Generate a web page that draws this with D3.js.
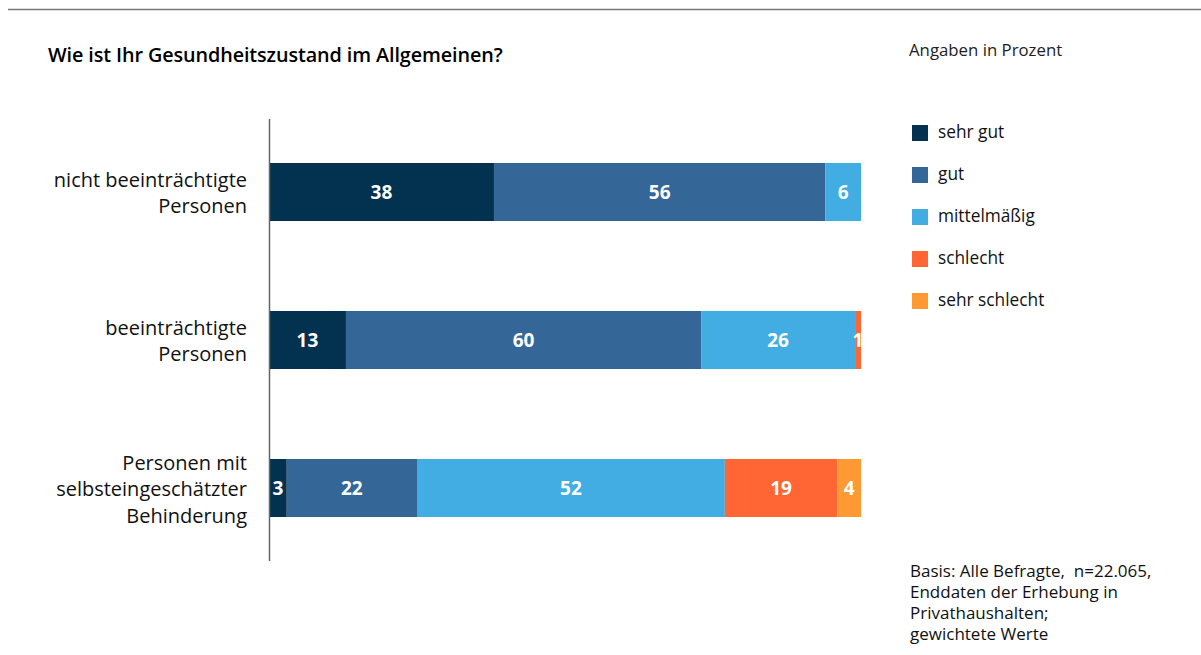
<!DOCTYPE html>
<html><head><meta charset="utf-8">
<script src="https://cdn.jsdelivr.net/npm/d3@7"></script>
<style>
html,body{margin:0;padding:0;background:#fff;}
svg{display:block;font-family:"Open Sans",sans-serif;}
</style></head>
<body><svg id="chart" width="1201" height="655"></svg>
<script>
const categories = [["nicht beeinträchtigte","Personen"],["beeinträchtigte","Personen"],["Personen mit","selbsteingeschätzter","Behinderung"]];
const seriesNames = ["sehr gut","gut","mittelmäßig","schlecht","sehr schlecht"];
const sehrGut = [38,13,3];
const gut = [56,60,22];
const mittel = [6,26,52];
const schlecht = [0,1,19];
const sehrSchlecht = [0,0,4];
const colors = ["#02324f","#346797","#41ade3","#ff6633","#ff9933"];
const footnote = ["Basis: Alle Befragte,  n=22.065,","Enddaten der Erhebung in","Privathaushalten;","gewichtete Werte"];

const svg = d3.select("#chart");
const catKeys = categories.map((c,i)=>"c"+i);
const rows = catKeys.map((k,i)=>{
  const r = {key:k};
  [sehrGut,gut,mittel,schlecht,sehrSchlecht].forEach((arr,j)=>r[seriesNames[j]]=arr[i]);
  return r;
});
const stack = d3.stack().keys(seriesNames)(rows);

const x = d3.scaleLinear().domain([0,100]).range([269,861]);
const y = d3.scaleBand().domain(catKeys).range([118,562]).paddingInner(0.608).paddingOuter(0.304);

svg.append("defs").append("clipPath").attr("id","barclip")
  .append("rect").attr("x",x(0)).attr("y",0).attr("width",x(100)-x(0)).attr("height",655);

// top rule
svg.append("line").attr("x1",8).attr("x2",1201).attr("y1",9.5).attr("y2",9.5).attr("stroke","#777").attr("stroke-width",1.5);

// title
svg.append("text").attr("x",48).attr("y",62).attr("font-size",19.8).attr("font-weight",600).attr("letter-spacing",-0.1).attr("fill","#000").text("Wie ist Ihr Gesundheitszustand im Allgemeinen?");
svg.append("text").attr("x",909).attr("y",56).attr("font-size",16.8).attr("fill","#222").text("Angaben in Prozent");

// bars
const g = svg.append("g").attr("clip-path","url(#barclip)");
stack.forEach((s,j)=>{
  g.selectAll(null).data(s).enter().append("rect")
    .attr("x",d=>x(d[0])).attr("width",d=>x(d[1])-x(d[0]))
    .attr("y",d=>y(d.data.key)).attr("height",y.bandwidth())
    .attr("fill",colors[j]);
  g.selectAll(null).data(s.filter(d=>d[1]-d[0]>0)).enter().append("text")
    .attr("x",d=>(x(d[0])+x(d[1]))/2)
    .attr("text-anchor","middle")
    .attr("y",d=>y(d.data.key)+y.bandwidth()/2+6.5)
    .attr("font-size",19).attr("font-weight",700).attr("fill","#fff")
    .text(d=>d[1]-d[0]);
});

// axis line
svg.append("line").attr("x1",269.5).attr("x2",269.5).attr("y1",119).attr("y2",561).attr("stroke","#666").attr("stroke-width",1.5);

// category labels
categories.forEach((lines,i)=>{
  const cy = y(catKeys[i])+y.bandwidth()/2;
  const lh = 26.5;
  const t = svg.append("text").attr("text-anchor","end").attr("font-size",20).attr("fill","#111");
  lines.forEach((l,k)=>{
    t.append("tspan").attr("x",247).attr("y",cy+(k-(lines.length-1)/2)*lh+8).text(l);
  });
});

// legend
const lg = svg.append("g");
seriesNames.forEach((n,i)=>{
  const yy = 125+i*42;
  lg.append("rect").attr("x",912).attr("y",yy).attr("width",16).attr("height",16).attr("fill",colors[i]);
  lg.append("text").attr("x",938).attr("y",yy+13).attr("font-size",17.3).attr("fill","#111").text(n);
});

// footnote
const ft = svg.append("text").attr("font-size",17).attr("fill","#111");
footnote.forEach((l,k)=>ft.append("tspan").attr("x",910).attr("y",577+k*21).attr("xml:space","preserve").text(l));
</script></body></html>
